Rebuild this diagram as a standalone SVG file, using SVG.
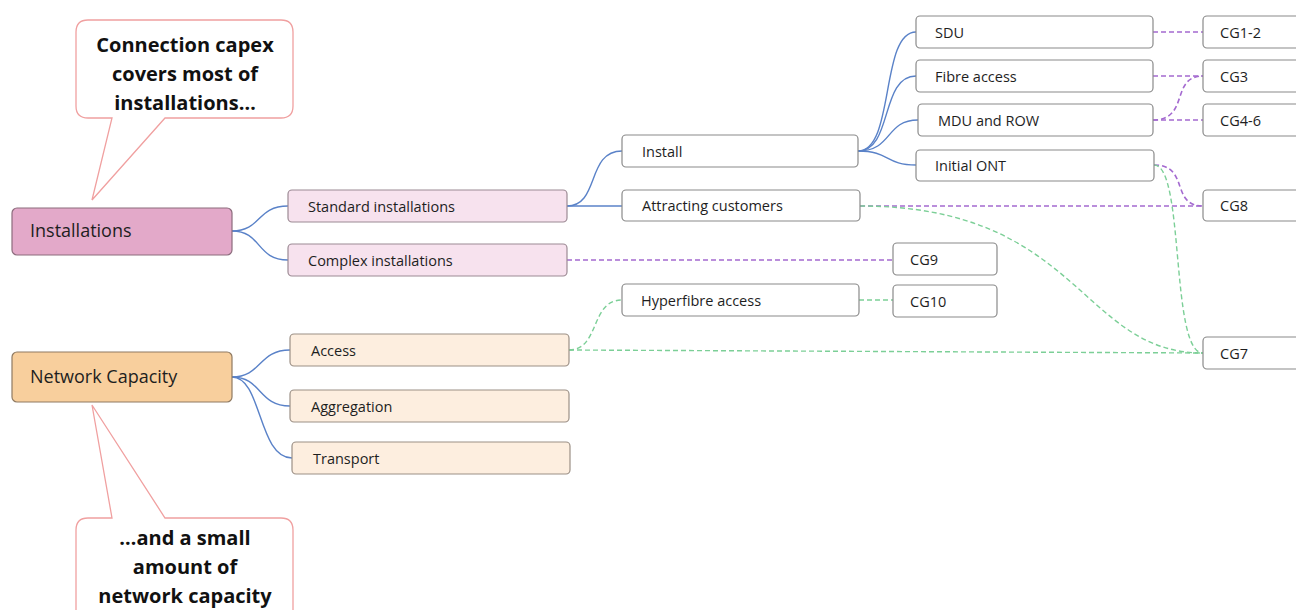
<svg xmlns="http://www.w3.org/2000/svg" width="1296" height="610" viewBox="0 0 1296 610">
<style>
  .box{fill:#fff;stroke:#8a8a8a;stroke-width:1.2}
  .main1{fill:#e3a9c9;stroke:#8c6c7d;stroke-width:1.2}
  .sub1{fill:#f7e2ee;stroke:#9c8a94;stroke-width:1.2}
  .main2{fill:#f8cf9d;stroke:#8f7a62;stroke-width:1.2}
  .sub2{fill:#fdeedf;stroke:#9c9086;stroke-width:1.2}
  .call{fill:#fff;stroke:#f0a0a0;stroke-width:1.3}
  text{font-family:"Open Sans","Noto Sans","Liberation Sans",sans-serif;fill:#1e1e1e}
  .t{font-size:14.5px}
  .tm{font-size:18px}
  .tc{font-size:20px;font-weight:bold;text-anchor:middle;fill:#111}
  .tree{fill:none;stroke:#5a82c8;stroke-width:1.4}
  .pd{fill:none;stroke:#a46ad0;stroke-width:1.6;stroke-dasharray:5 3}
  .gd{fill:none;stroke:#7ccf97;stroke-width:1.4;stroke-dasharray:5 3}
</style>

<g id="connectors">
  <path class="tree" d="M232,231 C262,231 256,206 288,206"/>
  <path class="tree" d="M232,231 C262,231 256,260 288,260"/>
  <path class="tree" d="M567,206 C600,206 586,151 622,151"/>
  <path class="tree" d="M567,206 C590,206 600,206 622,206"/>
  <path class="tree" d="M858,151 C895,151 880,32 916,32"/>
  <path class="tree" d="M858,151 C893,151 880,76 916,76"/>
  <path class="tree" d="M858,151 C893,151 885,120 918,120"/>
  <path class="tree" d="M858,151 C890,151 885,165 916,165"/>
  <path class="tree" d="M232,377 C262,377 258,350 290,350"/>
  <path class="tree" d="M232,377 C262,377 258,406 290,406"/>
  <path class="tree" d="M232,377 C262,377 258,458 292,458"/>

  <path class="pd" d="M1153,32 L1203,32"/>
  <path class="pd" d="M1153,76 L1203,76"/>
  <path class="pd" d="M1153,120 L1203,120"/>
  <path class="pd" d="M1153,120 C1190,120 1170,76 1203,76"/>
  <path class="pd" d="M1154,165 C1190,165 1170,206 1203,206"/>
  <path class="pd" d="M860,206 L1203,206"/>
  <path class="pd" d="M567,260 L893,260"/>

  <path class="gd" d="M859,300 L893,300"/>
  <path class="gd" d="M569,350 C600,350 590,300 622,300"/>
  <path class="gd" d="M569,350 L1203,353"/>
  <path class="gd" d="M860,206 C1080,206 1080,353 1203,353"/>
  <path class="gd" d="M1154,165 C1185,165 1170,353 1203,353"/>
</g>

<g id="callout1">
  <path class="call" d="M88,20 H281 Q293,20 293,32 V106 Q293,118 281,118 H165 L92,200 L112,118 H88 Q76,118 76,106 V32 Q76,20 88,20 Z"/>
  <text class="tc" x="185" y="52">Connection capex</text>
  <text class="tc" x="185" y="81">covers most of</text>
  <text class="tc" x="185" y="110">installations…</text>
</g>

<g id="callout2">
  <path class="call" d="M88,518 H112 L92,405 L165,518 H281 Q293,518 293,530 V622 H76 V530 Q76,518 88,518 Z"/>
  <text class="tc" x="185" y="545">…and a small</text>
  <text class="tc" x="185" y="574">amount of</text>
  <text class="tc" x="185" y="603">network capacity</text>
</g>

<g id="installations"><rect class="main1" x="12" y="208" width="220" height="47" rx="5"/><text class="tm" x="30" y="237">Installations</text></g>
<g id="standard"><rect class="sub1" x="288" y="190" width="279" height="32" rx="4"/><text class="t" x="308" y="212">Standard installations</text></g>
<g id="complex"><rect class="sub1" x="288" y="244" width="279" height="32" rx="4"/><text class="t" x="308" y="266">Complex installations</text></g>
<g id="install"><rect class="box" x="622" y="135" width="236" height="32" rx="4"/><text class="t" x="642" y="157">Install</text></g>
<g id="attracting"><rect class="box" x="622" y="190" width="238" height="31" rx="4"/><text class="t" x="642" y="211">Attracting customers</text></g>
<g id="sdu"><rect class="box" x="916" y="16" width="237" height="32" rx="4"/><text class="t" x="935" y="38">SDU</text></g>
<g id="fibre"><rect class="box" x="916" y="60" width="237" height="32" rx="4"/><text class="t" x="935" y="82">Fibre access</text></g>
<g id="mdu"><rect class="box" x="918" y="104" width="235" height="32" rx="4"/><text class="t" x="938" y="126">MDU and ROW</text></g>
<g id="ont"><rect class="box" x="916" y="150" width="238" height="31" rx="4"/><text class="t" x="935" y="171">Initial ONT</text></g>
<g id="cg12"><rect class="box" x="1203" y="16" width="100" height="32" rx="4"/><text class="t" x="1220" y="38">CG1-2</text></g>
<g id="cg3"><rect class="box" x="1203" y="60" width="100" height="32" rx="4"/><text class="t" x="1220" y="82">CG3</text></g>
<g id="cg46"><rect class="box" x="1203" y="104" width="100" height="32" rx="4"/><text class="t" x="1220" y="126">CG4-6</text></g>
<g id="cg8"><rect class="box" x="1203" y="190" width="100" height="31" rx="4"/><text class="t" x="1220" y="211">CG8</text></g>
<g id="cg9"><rect class="box" x="893" y="243" width="104" height="32" rx="4"/><text class="t" x="910" y="265">CG9</text></g>
<g id="cg10"><rect class="box" x="893" y="285" width="104" height="32" rx="4"/><text class="t" x="910" y="307">CG10</text></g>
<g id="hyperfibre"><rect class="box" x="622" y="284" width="237" height="32" rx="4"/><text class="t" x="641" y="306">Hyperfibre access</text></g>
<g id="cg7"><rect class="box" x="1203" y="337" width="100" height="32" rx="4"/><text class="t" x="1220" y="359">CG7</text></g>
<g id="network"><rect class="main2" x="12" y="352" width="220" height="50" rx="5"/><text class="tm" x="30" y="383">Network Capacity</text></g>
<g id="access"><rect class="sub2" x="290" y="334" width="279" height="32" rx="4"/><text class="t" x="311" y="356">Access</text></g>
<g id="aggregation"><rect class="sub2" x="290" y="390" width="279" height="32" rx="4"/><text class="t" x="311" y="412">Aggregation</text></g>
<g id="transport"><rect class="sub2" x="292" y="442" width="278" height="32" rx="4"/><text class="t" x="313" y="464">Transport</text></g>
</svg>
